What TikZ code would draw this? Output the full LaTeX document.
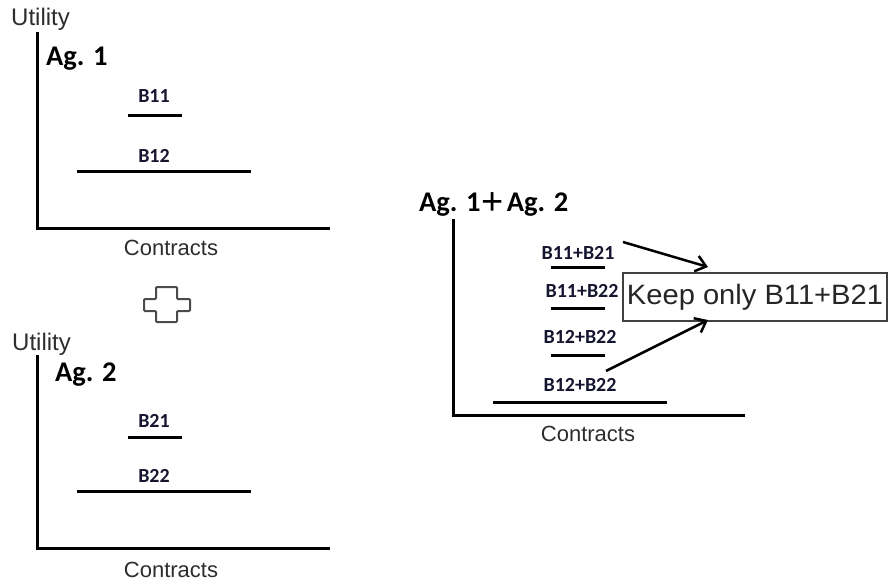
\documentclass[tikz,border=0pt]{standalone}
\usepackage{fontspec}
\setmainfont{Liberation Sans}
\newfontfamily\calib{Carlito}
\usetikzlibrary{arrows.meta}
\definecolor{bidc}{RGB}{22,22,48}
\definecolor{axtxt}{RGB}{45,45,45}
\definecolor{crossc}{RGB}{75,75,75}

\begin{document}
\begin{tikzpicture}[x=1pt,y=-1pt,
  axis/.style={line width=3pt, line join=miter},
  bar/.style={line width=3pt},
  axlbl/.style={font=\fontsize{22}{26}\selectfont, text=axtxt, inner sep=0pt, anchor=base},
  utl/.style={font=\fontsize{24}{28}\selectfont, text=axtxt, inner sep=0pt, anchor=base west},
  agent/.style={font=\calib\bfseries\fontsize{28.5}{32}\selectfont, inner sep=0pt, anchor=base west},
  bid/.style={font=\calib\bfseries\fontsize{20}{23}\selectfont, text=bidc, inner sep=0pt, anchor=base},
  arr/.style={line width=2.5pt, -{Straight Barb[length=10pt,width=16pt,line width=2.5pt]}},
  keep/.style={draw=black!75, line width=1.5pt, fill=white, inner sep=0pt,
    minimum width=264pt, minimum height=48pt, text=black!85,
    font=\fontsize{28}{32}\selectfont}]
\useasboundingbox (0,0) rectangle (888,584);

% ---- agent 1 ----
\node[utl] (u1) at (11,25) {Utility};
\draw[axis] (37,32) -- (37,228) -- (330,228);
\node[agent] (ag1) at (46,65) {Ag. 1};
\node[bid] (b11) at (154,102) {B11};
\draw[bar] (128,115) -- (182,115);
\node[bid] (b12) at (154,162) {B12};
\draw[bar] (77,171) -- (251,171);
\node[axlbl] (c1) at (171,255) {Contracts};

% ---- combination symbol ----
\draw[crossc, line width=2pt, rounded corners=1pt, fill=white]
  (156,287) -- (177,287) -- (177,299) -- (190,299) -- (190,311) -- (177,311)
  -- (177,322) -- (156,322) -- (156,311) -- (144,311) -- (144,299) -- (156,299) -- cycle;

% ---- agent 2 ----
\node[utl] (u2) at (12,350) {Utility};
\draw[axis] (37,355) -- (37,548) -- (330,548);
\node[agent] (ag2) at (55,381) {Ag. 2};
\node[bid] (b21) at (154,427) {B21};
\draw[bar] (128,437) -- (182,437);
\node[bid] (b22) at (154,482) {B22};
\draw[bar] (77,491) -- (251,491);
\node[axlbl] (c2) at (171,577) {Contracts};

% ---- combined agents ----
\node[agent] (ag12) at (419,211)
  {Ag. 1\hspace{1pt}\raisebox{-3pt}{\fontspec{Liberation Sans}\mdseries\fontsize{38}{40}\selectfont +}\hspace{3pt}Ag. 2};
\draw[axis] (453,219) -- (453,415) -- (745,415);
\node[bid] (s1) at (578,259) {B11+B21};
\draw[bar] (551,267) -- (605,267);
\node[bid] (s2) at (582,297) {B11+B22};
\draw[bar] (551,308) -- (605,308);
\node[bid] (s3) at (580,343) {B12+B22};
\draw[bar] (551,355) -- (605,355);
\node[bid] (s4) at (580,391) {B12+B22};
\draw[bar] (493,402) -- (667,402);
\node[axlbl] (c3) at (588,441) {Contracts};

\node[keep] (box) at (755,297) {\scalebox{1.04}[1]{Keep only B11+B21}};

\coordinate (f1) at (623,242);
\coordinate (t1) at (708,267);
\coordinate (f2) at (606,371);
\coordinate (t2) at (708,320);
\draw[arr] (f1) -- (t1);
\draw[arr] (f2) -- (t2);
\end{tikzpicture}
\end{document}
